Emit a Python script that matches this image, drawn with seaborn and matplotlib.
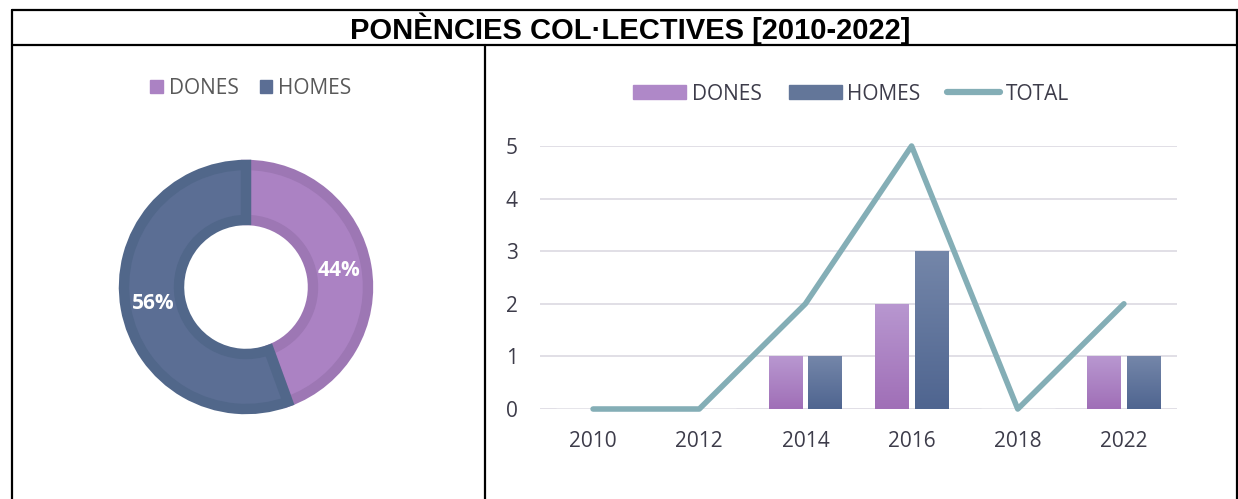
import numpy as np
import pandas as pd
import matplotlib
matplotlib.use("Agg")
import matplotlib.pyplot as plt
from matplotlib.colors import LinearSegmentedColormap
from matplotlib.patches import Patch
from matplotlib.lines import Line2D
import seaborn as sns

# data
years = ["2010", "2012", "2014", "2016", "2018", "2022"]
dones = [0, 0, 1, 2, 0, 1]
homes = [0, 0, 1, 3, 0, 1]
total = [0, 0, 2, 5, 0, 2]
groups = ["DONES", "HOMES"]
share = [sum(dones), sum(homes)]

c_dones, c_homes, c_total = "#AB82C3", "#5B6E94", "#84AEB6"
edge_dones, edge_homes = "#9D77B4", "#51678A"
grad = {"DONES": ("#A06FB7", "#B897D0"), "HOMES": ("#4F6590", "#7486A9")}
txt = "#3D3C4A"

sns.set_theme(style="white")
plt.rcParams["font.family"] = ["Open Sans", "DejaVu Sans"]

fig = plt.figure(figsize=(12.38, 4.99), dpi=100)
W, H = 1238, 499

# table frame
def hline(y, x0=12, x1=1238):
    fig.add_artist(Line2D([x0 / W, x1 / W], [1 - y / H, 1 - y / H], color="black", lw=1.6))

def vline(x, y0=10, y1=499):
    fig.add_artist(Line2D([x / W, x / W], [1 - y0 / H, 1 - y1 / H], color="black", lw=1.6))

hline(10)
hline(45)
vline(12)
vline(485, 45)
vline(1237)
fig.text(630 / W, 1 - 29 / H, "PONÈNCIES COL·LECTIVES [2010-2022]", ha="center", va="center",
         fontsize=21, fontweight="bold", family="Liberation Sans", color="black")

# donut
cx, cy, size = 246, 287, 300
axp = fig.add_axes([(cx - size / 2) / W, (H - cy - size / 2) / H, size / W, size / H])
wedges, _, autotexts = axp.pie(
    share, colors=[c_dones, c_homes], startangle=90, counterclock=False, radius=1.22,
    autopct="%1.0f%%", pctdistance=0.77,
    wedgeprops=dict(width=0.55, linewidth=7.5, edgecolor="none"))
for wdg, ec in zip(wedges, [edge_dones, edge_homes]):
    wdg.set_edgecolor(ec)
    wdg.set_joinstyle("miter")
for t in autotexts:
    t.set_color("white")
    t.set_fontsize(15)
    t.set_fontweight("bold")
axp.set_xlim(-1.5, 1.5)
axp.set_ylim(-1.5, 1.5)
axp.set_aspect("equal")
fig.legend(handles=[Patch(color=c_dones, label=groups[0]), Patch(color=c_homes, label=groups[1])],
           loc="center", bbox_to_anchor=(251 / W, 1 - 88 / H), ncol=2, frameon=False,
           fontsize=15, handlelength=0.6, handleheight=0.6, handletextpad=0.3,
           columnspacing=1.0, labelcolor="#595959")

# bars + line
axb = fig.add_axes([540 / W, (H - 409) / H, 637 / W, 263 / H])
df = pd.DataFrame({"year": years * 2, "n": dones + homes,
                   "sexe": ["DONES"] * len(years) + ["HOMES"] * len(years)})
sns.barplot(data=df, x="year", y="n", hue="sexe", palette=[c_dones, c_homes],
            width=0.75, gap=0.15, ax=axb, legend=False, zorder=2)
for cont, g in zip(axb.containers, groups):
    cmap = LinearSegmentedColormap.from_list(g, grad[g])
    for p in cont.patches:
        h = p.get_height()
        if h <= 0:
            continue
        x0 = p.get_x()
        im = axb.imshow(np.linspace(0, 1, 100).reshape(-1, 1), cmap=cmap, aspect="auto",
                        origin="lower", extent=[x0, x0 + p.get_width(), 0, h], zorder=2.5)
        im.set_clip_path(p)
        p.set_alpha(0)
sns.lineplot(x=np.arange(len(years)), y=total, ax=axb, color=c_total, lw=4,
             zorder=3, clip_on=False)

axb.set_xlim(-0.5, len(years) - 0.5)
axb.set_ylim(0, 5)
axb.set_yticks(range(6))
axb.yaxis.grid(True, color="#DEDCE4", lw=1.3, zorder=0)
axb.set_axisbelow(True)
sns.despine(ax=axb, left=True, bottom=True)
axb.set_xlabel("")
axb.set_ylabel("")
axb.tick_params(axis="both", length=0, labelsize=15, labelcolor=txt)
axb.tick_params(axis="x", pad=16)
axb.tick_params(axis="y", pad=16)

leg_h = [Patch(color="#AF88C8", label="DONES"), Patch(color="#637699", label="HOMES"),
         Line2D([0], [0], color=c_total, lw=4.5, solid_capstyle="round", label="TOTAL")]
fig.legend(handles=leg_h, loc="center", bbox_to_anchor=(851 / W, 1 - 94 / H), ncol=3,
           frameon=False, fontsize=15, handlelength=2.55, handleheight=0.62,
           handletextpad=0.25, columnspacing=1.3, labelcolor=txt)

fig.savefig("out.png", dpi=100)
